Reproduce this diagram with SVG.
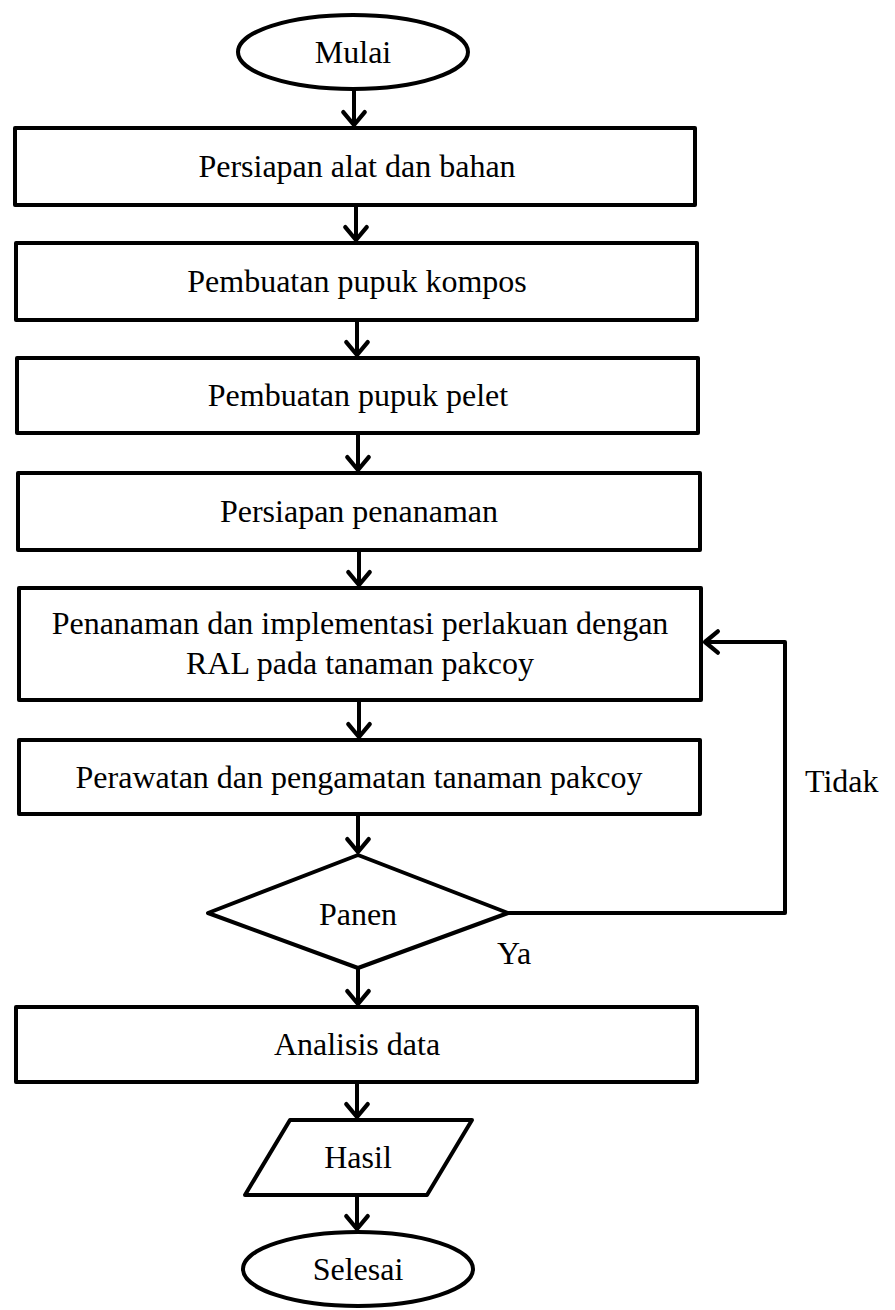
<svg xmlns="http://www.w3.org/2000/svg" width="895" height="1310" viewBox="0 0 895 1310">
  <style>
    .shape { fill: #ffffff; stroke: #000000; stroke-width: 4; stroke-linejoin: round; }
    .lbl { font-family: "Liberation Serif", "Times New Roman", serif; font-size: 32px; fill: #000000; text-anchor: middle; }
    .side { font-family: "Liberation Serif", "Times New Roman", serif; font-size: 32px; fill: #000000; }
    .conn { fill: none; stroke: #000000; stroke-width: 4; stroke-linejoin: round; }
  </style>
  <defs>
    <marker id="arrow" markerUnits="userSpaceOnUse" markerWidth="30" markerHeight="30" viewBox="-16 -14 20 28" refX="0" refY="0" orient="auto">
      <path d="M -12,-10 L 0,0 L -12,10" fill="none" stroke="#000000" stroke-width="4" stroke-linecap="round" stroke-linejoin="round"/>
    </marker>
  </defs>
  <rect width="895" height="1310" fill="#ffffff"/>

  <g id="connectors">
    <line class="conn" x1="354" y1="90" x2="354" y2="125" marker-end="url(#arrow)"/>
    <line class="conn" x1="356" y1="205" x2="356" y2="240" marker-end="url(#arrow)"/>
    <line class="conn" x1="357" y1="320" x2="357" y2="355" marker-end="url(#arrow)"/>
    <line class="conn" x1="358" y1="433" x2="358" y2="470" marker-end="url(#arrow)"/>
    <line class="conn" x1="359" y1="550" x2="359" y2="585" marker-end="url(#arrow)"/>
    <line class="conn" x1="359" y1="700" x2="359" y2="737" marker-end="url(#arrow)"/>
    <line class="conn" x1="358" y1="814" x2="358" y2="852" marker-end="url(#arrow)"/>
    <line class="conn" x1="358" y1="968" x2="358" y2="1004" marker-end="url(#arrow)"/>
    <line class="conn" x1="357" y1="1082" x2="357" y2="1117" marker-end="url(#arrow)"/>
    <line class="conn" x1="357" y1="1195" x2="357" y2="1229" marker-end="url(#arrow)"/>
    <polyline class="conn" points="508,913 785,913 785,642 705,642" marker-end="url(#arrow)"/>
    <text class="side" x="805" y="792">Tidak</text>
    <text class="side" x="497" y="964">Ya</text>
  </g>

  <g id="start">
    <ellipse class="shape" cx="353" cy="52" rx="115" ry="37"/>
    <text class="lbl" x="353" y="63">Mulai</text>
  </g>
  <g id="step1">
    <rect class="shape" x="15" y="128" width="680" height="77"/>
    <text class="lbl" x="357" y="177">Persiapan alat dan bahan</text>
  </g>
  <g id="step2">
    <rect class="shape" x="16" y="243" width="681" height="77"/>
    <text class="lbl" x="357" y="292">Pembuatan pupuk kompos</text>
  </g>
  <g id="step3">
    <rect class="shape" x="17" y="358" width="681" height="75"/>
    <text class="lbl" x="358" y="406">Pembuatan pupuk pelet</text>
  </g>
  <g id="step4">
    <rect class="shape" x="18" y="473" width="682" height="77"/>
    <text class="lbl" x="359" y="522">Persiapan penanaman</text>
  </g>
  <g id="step5">
    <rect class="shape" x="19" y="588" width="682" height="112"/>
    <text class="lbl" x="360" y="634">Penanaman dan implementasi perlakuan dengan</text>
    <text class="lbl" x="360" y="674">RAL pada tanaman pakcoy</text>
  </g>
  <g id="step6">
    <rect class="shape" x="19" y="740" width="681" height="74"/>
    <text class="lbl" x="359" y="788">Perawatan dan pengamatan tanaman pakcoy</text>
  </g>
  <g id="decision">
    <polygon class="shape" points="358,855 508,913 358,968 208,913"/>
    <text class="lbl" x="358" y="925">Panen</text>
  </g>
  <g id="analysis">
    <rect class="shape" x="16" y="1007" width="681" height="75"/>
    <text class="lbl" x="357" y="1055">Analisis data</text>
  </g>
  <g id="result">
    <polygon class="shape" points="290,1120 472,1120 427,1195 245,1195"/>
    <text class="lbl" x="358" y="1168">Hasil</text>
  </g>
  <g id="end">
    <ellipse class="shape" cx="358" cy="1269" rx="115" ry="37"/>
    <text class="lbl" x="358" y="1280">Selesai</text>
  </g>
</svg>
